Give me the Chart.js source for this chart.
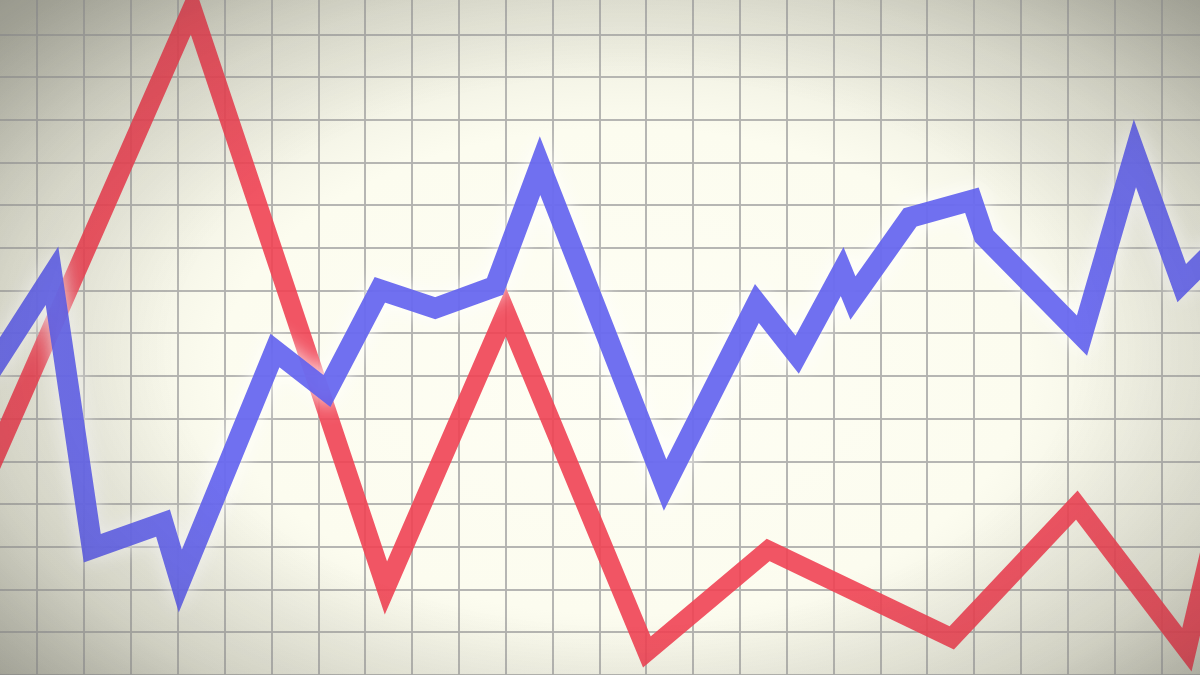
<!DOCTYPE html>
<html>
<head>
<meta charset="utf-8">
<script src="https://cdn.jsdelivr.net/npm/chart.js@4/dist/chart.umd.min.js"></script>
<style>
  html, body { margin: 0; padding: 0; }
  body {
    width: 1200px; height: 675px; overflow: hidden;
    background: radial-gradient(ellipse 70% 75% at 52% 55%, #fefef4 0%, #fcfcef 48%, #e8e8da 76%, #c8c8ba 100%);
  }
  #wrap { position: relative; width: 1200px; height: 675px; }
  #vignette {
    position: absolute; left: 0; top: 0; width: 1200px; height: 675px; pointer-events: none;
    background: radial-gradient(ellipse 72% 78% at 52% 52%, rgba(40,40,30,0) 52%, rgba(40,40,30,0.12) 78%, rgba(40,40,35,0.3) 100%);
  }
</style>
</head>
<body>
<div id="wrap">
  <canvas id="chart"></canvas>
  <div id="vignette"></div>
</div>
<script>
// grid units: x counts columns, y counts rows from the bottom edge
const xMin = -0.8
const xMax = 24.82
const yMin = 0
const yMax = 15.81

const redX = [-1.22, 3.30, 7.44, 10.00, 13.01, 15.60, 19.52, 22.19, 24.54, 25.14]
const redY = [4.33, 15.62, 2.04, 8.50, 0.54, 2.93, 0.87, 3.98, 0.59, 3.4]

const blueX = [-1.01, 0.31, 1.17, 2.68, 3.05, 5.07, 6.18, 7.31, 8.49, 9.77, 10.73, 13.40, 15.36, 16.22, 17.18, 17.41, 18.63, 19.95, 20.21, 22.30, 23.43, 24.43, 25.35]
const blueY = [7.10, 9.35, 2.97, 3.56, 2.20, 7.60, 6.65, 9.02, 8.59, 9.10, 11.93, 4.45, 8.70, 7.50, 9.45, 8.83, 10.72, 11.12, 10.28, 7.95, 12.22, 9.18, 10.19]

const toPoints = (xs, ys) => xs.map((x, i) => ({ x, y: ys[i] }))

// soft white halo around the blue line
const glow = {
  id: 'glow',
  beforeDatasetDraw(chart, args) {
    if (chart.data.datasets[args.index].glow) {
      const ctx = chart.ctx
      ctx.save()
      ctx.shadowColor = 'rgba(255,255,255,1)'
      ctx.shadowBlur = 20
    }
  },
  afterDatasetDraw(chart, args) {
    if (chart.data.datasets[args.index].glow) {
      chart.ctx.restore()
    }
  }
}

const gridStyle = {
  color: 'rgba(178,178,175,0.95)',
  lineWidth: 2,
  drawTicks: false
}

new Chart(document.getElementById('chart'), {
  type: 'line',
  data: {
    datasets: [
      {
        label: 'blue',
        data: toPoints(blueX, blueY),
        borderColor: 'rgba(96,96,238,0.9)',
        borderWidth: 21,
        borderJoinStyle: 'miter',
        pointRadius: 0,
        tension: 0,
        glow: true,
        order: 0
      },
      {
        label: 'red',
        data: toPoints(redX, redY),
        borderColor: 'rgba(240,66,84,0.9)',
        borderWidth: 19,
        borderJoinStyle: 'miter',
        pointRadius: 0,
        tension: 0,
        order: 1
      }
    ]
  },
  options: {
    responsive: true,
    maintainAspectRatio: false,
    animation: false,
    layout: { padding: 0 },
    plugins: { legend: { display: false }, tooltip: { enabled: false } },
    scales: {
      x: {
        type: 'linear',
        min: xMin,
        max: xMax,
        border: { display: false },
        grid: gridStyle,
        ticks: { display: false, stepSize: 1, includeBounds: false }
      },
      y: {
        type: 'linear',
        min: yMin,
        max: yMax,
        border: { display: false },
        grid: gridStyle,
        ticks: { display: false, stepSize: 1, includeBounds: false }
      }
    }
  },
  plugins: [glow]
})
</script>
</body>
</html>
